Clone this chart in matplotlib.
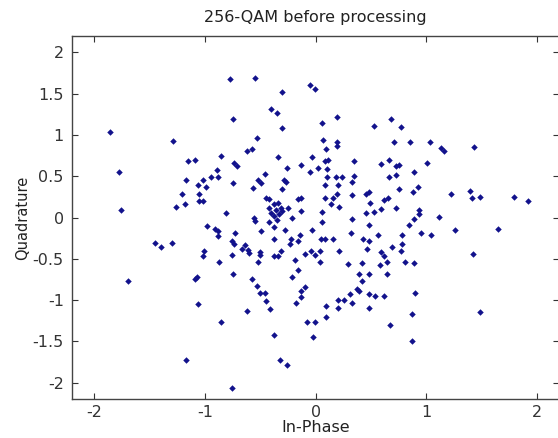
import numpy as np
import matplotlib
matplotlib.use("Agg")
import matplotlib.pyplot as plt

# (In-Phase, Quadrature), grouped by band
top_band = [
    (-1.86, 1.04), (-1.29, 0.93), (-0.77, 1.68), (-0.55, 1.69), (-0.05, 1.61),
    (-0.01, 1.56), (-0.30, 1.52), (-0.40, 1.31), (-0.35, 1.26), (-0.75, 1.19),
    (0.19, 1.22), (0.06, 1.14), (0.53, 1.11), (0.68, 1.19), (-0.30, 1.08),
    (-0.53, 0.96), (0.07, 0.94), (0.19, 0.91), (0.19, 0.86), (-0.58, 0.83),
    (0.09, 0.83), (0.77, 1.10), (0.71, 0.92), (0.85, 0.92), (1.03, 0.92),
    (1.13, 0.84), (1.43, 0.85),
]

middle_band = [
    # left
    (-1.78, 0.55), (-1.76, 0.09), (-1.15, 0.69), (-1.09, 0.70), (-0.86, 0.74),
    (-0.89, 0.57), (-0.95, 0.49), (-0.88, 0.49), (-1.17, 0.45), (-1.02, 0.45),
    (-1.06, 0.39), (-0.99, 0.37), (-1.21, 0.28), (-1.05, 0.28), (-1.05, 0.20),
    (-1.02, 0.20), (-1.26, 0.13), (-1.18, 0.16), (-0.98, -0.10), (-0.91, -0.14),
    (-0.88, -0.16), (-0.88, -0.22), (-1.45, -0.31), (-1.40, -0.36), (-1.30, -0.31),
    (-1.01, -0.41), (-1.02, -0.47), (-0.87, -0.54),
    # centre
    (-0.62, 0.80), (-0.34, 0.73), (-0.03, 0.73), (0.08, 0.68), (0.11, 0.70),
    (-0.74, 0.66), (-0.71, 0.62), (0.35, 0.68), (0.59, 0.65), (0.66, 0.70),
    (-0.26, 0.60), (-0.13, 0.64), (0.02, 0.60), (0.10, 0.59), (-0.05, 0.55),
    (-0.46, 0.53), (-0.52, 0.46), (-0.49, 0.42), (-0.29, 0.46), (-0.27, 0.43),
    (0.10, 0.49), (0.18, 0.49), (0.24, 0.49), (0.35, 0.50), (0.33, 0.43),
    (-0.75, 0.42), (-0.57, 0.36), (-0.30, 0.34), (0.20, 0.39), (0.08, 0.39),
    (0.19, 0.29), (0.33, 0.27), (0.45, 0.29), (0.48, 0.31), (-0.45, 0.24),
    (-0.42, 0.23), (-0.16, 0.22), (-0.13, 0.24), (0.08, 0.24), (0.16, 0.24),
    (0.62, 0.21), (0.65, 0.24), (0.49, 0.18), (0.14, 0.16), (0.21, 0.13),
    (-0.42, 0.12), (-0.38, 0.16), (-0.34, 0.18), (-0.40, 0.06), (-0.36, 0.09),
    (-0.31, 0.12), (-0.38, 0.02), (-0.33, 0.04), (-0.30, 0.08), (-0.25, 0.11),
    (-0.13, 0.08), (0.06, 0.07), (0.45, 0.05), (0.53, 0.07), (0.59, 0.10),
    (-0.81, 0.05), (-0.56, 0.00), (-0.55, -0.04), (-0.42, -0.06), (-0.35, -0.03),
    (-0.21, 0.00), (0.06, -0.06), (0.33, -0.02), (0.48, -0.09), (-0.38, -0.12),
    (-0.49, -0.16), (-0.28, -0.15), (-0.03, -0.15), (-0.73, -0.19), (-0.14, -0.21),
    (0.32, -0.19), (0.56, -0.21), (0.43, -0.26), (0.48, -0.28), (0.05, -0.26),
    (0.08, -0.26), (0.16, -0.26), (-0.38, -0.26), (-0.22, -0.26), (-0.23, -0.32),
    (-0.76, -0.28), (-0.74, -0.32), (-0.16, -0.29), (-0.64, -0.33), (-0.67, -0.38),
    (-0.61, -0.39), (-0.60, -0.43), (-0.31, -0.40), (-0.10, -0.44), (-0.04, -0.41),
    (-0.01, -0.45), (0.04, -0.41), (0.21, -0.41), (0.46, -0.38), (0.59, -0.42),
    (0.62, -0.47), (-0.76, -0.45), (-0.50, -0.42), (-0.50, -0.45), (-0.38, -0.47),
    (-0.34, -0.47), (-0.19, -0.52), (-0.52, -0.54), (0.04, -0.54), (0.29, -0.56),
    (0.42, -0.55), (0.58, -0.58), (0.64, -0.54), (-0.75, -0.68), (-0.16, -0.64),
    (0.39, -0.69), (0.64, -0.68),
    # right
    (1.16, 0.80), (0.75, 0.64), (0.73, 0.62), (1.01, 0.66), (0.89, 0.55),
    (0.66, 0.49), (0.73, 0.52), (0.75, 0.35), (0.92, 0.37), (0.88, 0.31),
    (1.22, 0.29), (1.39, 0.32), (1.41, 0.24), (1.48, 0.25), (1.79, 0.25),
    (1.92, 0.20), (0.73, 0.12), (0.93, 0.09), (0.93, 0.04), (0.89, -0.02),
    (1.11, 0.01), (0.84, -0.09), (0.78, -0.21), (0.95, -0.19), (1.04, -0.21),
    (1.26, -0.15), (1.65, -0.14), (0.69, -0.36), (0.78, -0.32), (0.77, -0.41),
    (1.42, -0.44), (0.81, -0.54), (0.89, -0.55),
]

bottom_band = [
    (-1.70, -0.77), (-1.09, -0.74), (-1.07, -0.72), (-1.06, -1.05), (-0.86, -1.27),
    (-1.17, -1.72), (-0.58, -0.74), (-0.53, -0.83), (-0.50, -0.92), (-0.46, -0.91),
    (-0.45, -1.01), (-0.62, -1.13), (-0.41, -1.11), (-0.38, -1.42), (-0.21, -0.72),
    (-0.10, -0.84), (-0.13, -0.89), (-0.13, -0.96), (-0.18, -1.04), (-0.08, -1.27),
    (-0.01, -1.27), (-0.02, -1.45), (-0.32, -1.73), (-0.26, -1.78), (-0.76, -2.06),
    (0.09, -1.07), (0.09, -1.20), (0.20, -1.00), (0.26, -1.00), (0.20, -1.10),
    (0.31, -0.93), (0.33, -1.03), (0.37, -0.86), (0.39, -0.89), (0.42, -0.77),
    (0.48, -0.68), (0.48, -0.93), (0.54, -0.95), (0.62, -0.95), (0.48, -1.09),
    (0.67, -1.30), (0.90, -0.91), (0.87, -1.17), (0.87, -1.50), (1.48, -1.15),
]

x_ticks = [-2, -1, 0, 1, 2]
y_ticks = [-2, -1.5, -1, -0.5, 0, 0.5, 1, 1.5, 2]
y_tick_labels = ["-2", "-1.5", "-1", "-0.5", "0", "0.5", "1", "1.5", "2"]

symbols = np.array(top_band + middle_band + bottom_band)

fig = plt.figure(figsize=(5.58, 4.38), dpi=100)
ax = fig.add_axes([72.2 / 558, 1 - 399.2 / 438, 487 / 558, 363.4 / 438])

ax.plot(symbols[:, 0], symbols[:, 1], linestyle="none", marker="D",
        markersize=3.3, markeredgewidth=0, color="#12128c")

ax.set_xlim(-2.2, 2.2)
ax.set_ylim(-2.2, 2.2)
ax.set_xticks(x_ticks)
ax.set_xticklabels([str(t) for t in x_ticks])
ax.set_yticks(y_ticks)
ax.set_yticklabels(y_tick_labels)

ax.tick_params(direction="in", length=4, width=0.8, top=True, right=True,
               labelsize=11.5, colors="#333333")
ax.tick_params(axis="x", pad=4)
ax.tick_params(axis="y", pad=6)
for s in ax.spines.values():
    s.set_color("#444444")
    s.set_linewidth(1.0)

ax.set_title("256-QAM before processing", fontsize=11.5, color="#222222", pad=10)
ax.set_xlabel("In-Phase", fontsize=11.5, color="#222222", labelpad=0)
ax.set_ylabel("Quadrature", fontsize=10.5, color="#222222", labelpad=2)

fig.savefig("out.png", dpi=100, facecolor="white")
